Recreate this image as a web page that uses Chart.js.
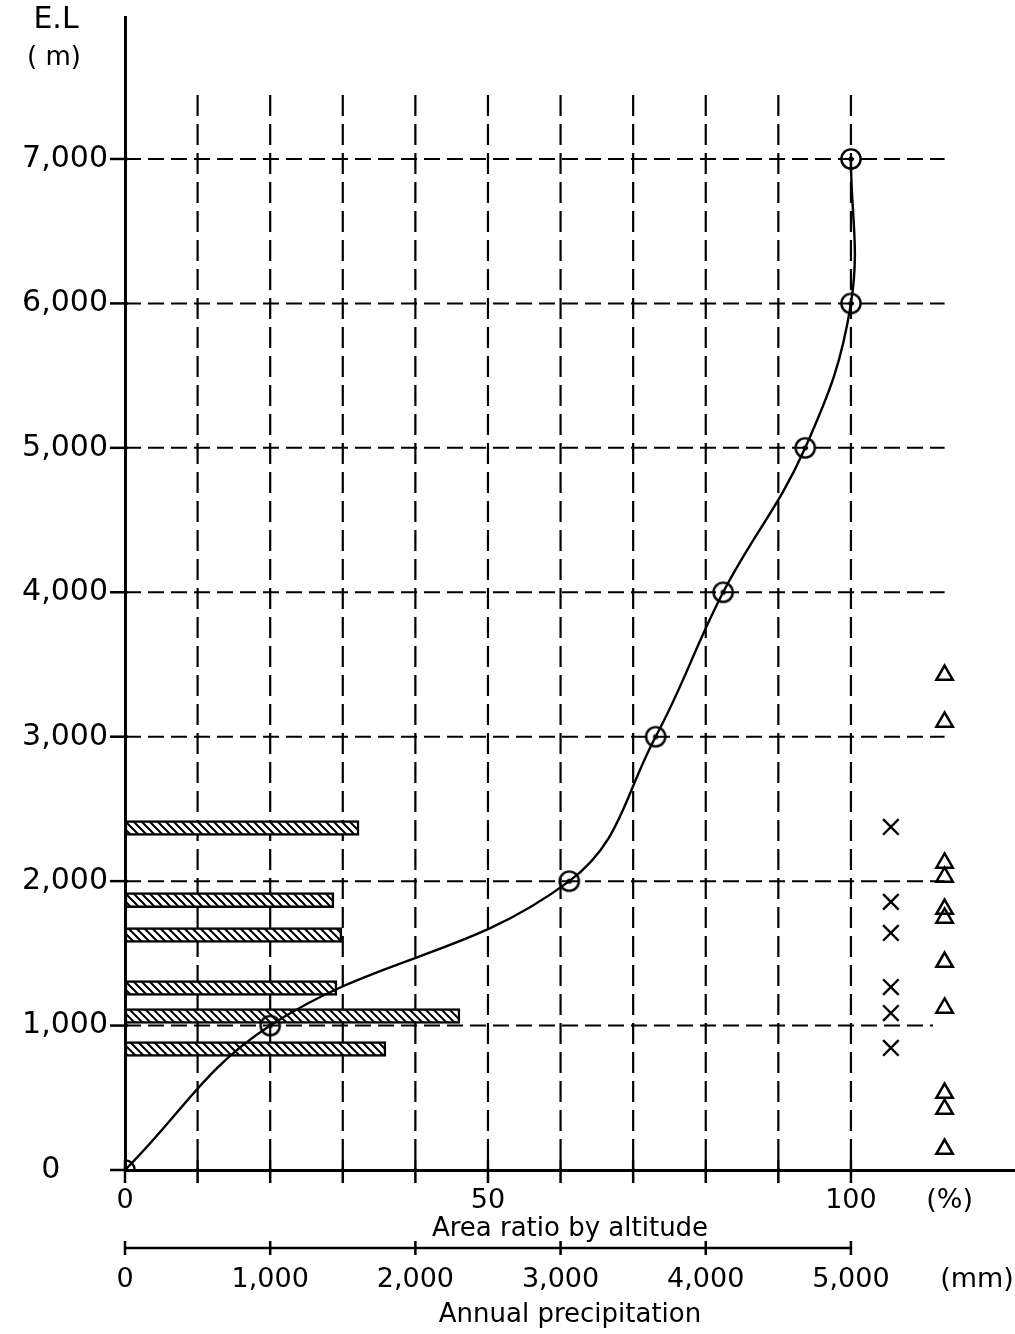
<!DOCTYPE html>
<html><head><meta charset="utf-8">
<script src="https://cdn.jsdelivr.net/npm/chart.js@4.4.1/dist/chart.umd.min.js"></script>
<style>html,body{margin:0;padding:0;background:#fff;}#wrap{width:1015px;height:1334px;}</style>
</head><body><div id="wrap"><canvas id="c" width="1015" height="1334"></canvas></div>
<script>
// ---------- data ----------
const elevations = [0, 1000, 2000, 3000, 4000, 5000, 6000, 7000];          // m
const areaRatio = [0, 20.0, 61.2, 73.1, 82.4, 93.7, 100, 100];            // % (cumulative)
const barElevations = [2368, 1869, 1627, 1260, 1066, 838];                // m (stations)
const barPrecip = [1612, 1439, 1494, 1460, 2307, 1797];                   // mm
const crossElevations = [2375, 1856, 1641, 1267, 1087, 845];              // m (X stations)
const triangleElevations = [3427, 3102, 2126, 2029, 1807, 1745, 1440, 1122, 533, 422, 145]; // m
const yTicks = [0, 1000, 2000, 3000, 4000, 5000, 6000, 7000];
const areaTicks = [0, 10, 20, 30, 40, 50, 60, 70, 80, 90, 100];
const areaTickLabels = [0, 50, 100];
const precipTicks = [0, 1000, 2000, 3000, 4000, 5000];
const yAxisTitle = ['E.L', '( m)'];

// ---------- layout constants ----------
const X_MAX = 122.6, Y_MAX = 7983, PCT_TO_MM = 50;
const UNIT_PCT_POS = 113.6, UNIT_MM_POS = 5868;
const CROSS_COL = 105.5, TRI_COL = 112.9;
const GRID_TOP = 7443;
const H_GRID_END = {def: 112.9, 1000: 111.3};
const FONT = 'DejaVu Sans';

Chart.defaults.font.family = FONT;
Chart.defaults.color = '#000';

function circleMarker() {
  const c = document.createElement('canvas'); c.width = c.height = 26;
  const g = c.getContext('2d');
  g.strokeStyle = '#000'; g.lineWidth = 2.4;
  g.beginPath(); g.arc(13, 13, 9.6, 0, 2 * Math.PI); g.stroke();
  g.fillStyle = '#000'; g.beginPath(); g.arc(13, 13, 2.6, 0, 2 * Math.PI); g.fill();
  return c;
}
function hatchPattern(ctx) {
  const c = document.createElement('canvas'); c.width = c.height = 8;
  const g = c.getContext('2d');
  g.fillStyle = '#fff'; g.fillRect(0, 0, 8, 8);
  g.strokeStyle = '#000'; g.lineWidth = 2;
  g.beginPath();
  g.moveTo(-2, -2); g.lineTo(10, 10);
  g.moveTo(-2, 6); g.lineTo(2, 10);
  g.moveTo(6, -2); g.lineTo(10, 2);
  g.stroke();
  return ctx.createPattern(c, 'repeat');
}
const fmt = v => Number(v).toLocaleString('en-US');

const refGrid = {
  id: 'refGrid',
  beforeDatasetsDraw(chart) {
    const {ctx, scales: {x, y}} = chart;
    ctx.save();
    ctx.strokeStyle = '#000';
    ctx.lineWidth = 2.2; ctx.setLineDash([21, 8]);
    areaTicks.filter(v => v > 0).forEach(v => {
      const px = x.getPixelForValue(v);
      ctx.beginPath(); ctx.moveTo(px, y.getPixelForValue(GRID_TOP)); ctx.lineTo(px, y.getPixelForValue(0)); ctx.stroke();
    });
    ctx.lineWidth = 2; ctx.setLineDash([16, 7]);
    yTicks.filter(v => v > 0).forEach(v => {
      const py = y.getPixelForValue(v);
      const end = H_GRID_END[v] !== undefined ? H_GRID_END[v] : H_GRID_END.def;
      ctx.beginPath(); ctx.moveTo(x.getPixelForValue(0), py); ctx.lineTo(x.getPixelForValue(end), py); ctx.stroke();
    });
    ctx.restore();
  },
  afterDraw(chart) {
    const {ctx, scales: {x, y, x2}} = chart;
    ctx.save();
    ctx.strokeStyle = '#000'; ctx.setLineDash([]);
    ctx.lineWidth = 2.5;
    const ax = x.getPixelForValue(0);
    yTicks.forEach(v => {
      const py = y.getPixelForValue(v);
      ctx.beginPath(); ctx.moveTo(ax - 15, py); ctx.lineTo(ax + 3, py); ctx.stroke();
    });
    const ay = y.getPixelForValue(0);
    areaTicks.forEach(v => {
      const px = x.getPixelForValue(v);
      ctx.beginPath(); ctx.moveTo(px, ay - 10); ctx.lineTo(px, ay + 13); ctx.stroke();
    });
    const py2 = x2.top - 2;
    ctx.lineWidth = 2.5;
    ctx.beginPath();
    ctx.moveTo(x2.getPixelForValue(precipTicks[0]), py2);
    ctx.lineTo(x2.getPixelForValue(precipTicks[precipTicks.length - 1]), py2);
    ctx.stroke();
    precipTicks.forEach(v => {
      const px = x2.getPixelForValue(v);
      ctx.beginPath(); ctx.moveTo(px, py2 - 7); ctx.lineTo(px, py2 + 7); ctx.stroke();
    });
    // y-axis title (horizontal, top-left)
    ctx.fillStyle = '#000';
    ctx.textAlign = 'center'; ctx.textBaseline = 'middle';
    ctx.font = '30px "' + FONT + '"';
    ctx.fillText(yAxisTitle[0], y.left + 56, chart.chartArea.top + 3);
    ctx.font = '26px "' + FONT + '"';
    ctx.fillText(yAxisTitle[1], y.left + 54, chart.chartArea.top + 41);
    ctx.restore();
  }
};

const noPad = s => { s.paddingLeft = 0; s.paddingRight = 0; s.paddingTop = 0; s.paddingBottom = 0; };

const cvs = document.getElementById('c');
const ctx = cvs.getContext('2d');

new Chart(ctx, {
  type: 'scatter',
  data: {
    datasets: [
      {
        type: 'bar', label: 'Annual precipitation', indexAxis: 'y',
        xAxisID: 'x2', yAxisID: 'y',
        data: barElevations.map((e, i) => ({x: barPrecip[i], y: e})),
        backgroundColor: hatchPattern(ctx), borderColor: '#000', borderWidth: 2.5,
        borderSkipped: false, barThickness: 15, grouped: false, order: 3
      },
      {
        type: 'line', label: 'Area ratio',
        xAxisID: 'x', yAxisID: 'y',
        data: elevations.map((e, i) => ({x: areaRatio[i], y: e})),
        borderColor: '#000', borderWidth: 2.4, fill: false, showLine: true,
        tension: 0.4,
        pointStyle: circleMarker(), pointRadius: 10, order: 0
      },
      {
        type: 'scatter', label: 'Stations X', xAxisID: 'x', yAxisID: 'y',
        data: crossElevations.map(e => ({x: CROSS_COL, y: e})),
        pointStyle: 'crossRot', pointRadius: 11, borderWidth: 2.4, borderColor: '#000', order: 1
      },
      {
        type: 'scatter', label: 'Stations triangle', xAxisID: 'x', yAxisID: 'y',
        data: triangleElevations.map(e => ({x: TRI_COL, y: e})),
        pointStyle: 'triangle', pointRadius: 9.5, borderWidth: 2.5, borderColor: '#000',
        backgroundColor: 'rgba(255,255,255,0)', order: 1
      }
    ]
  },
  options: {
    responsive: false, animation: false, devicePixelRatio: 1,
    layout: {autoPadding: false, padding: {top: 17, right: 0, bottom: 0, left: 0}},
    plugins: {legend: {display: false}, tooltip: {enabled: false}},
    events: [],
    scales: {
      x: {
        type: 'linear', position: 'bottom', min: 0, max: X_MAX, weight: 0, offset: false,
        grid: {display: false, drawTicks: false, offset: false},
        border: {display: true, color: '#000', width: 3},
        afterBuildTicks: s => { s.ticks = areaTickLabels.concat([UNIT_PCT_POS]).map(v => ({value: v})); },
        ticks: {autoSkip: false, maxRotation: 0, padding: 15, font: {size: 27},
          callback: v => (v === UNIT_PCT_POS ? '(%)' : String(v))},
        title: {display: true, text: 'Area ratio by altitude', font: {size: 26}, padding: {top: 0, bottom: 5}},
        afterFit: s => { s.height = 80; noPad(s); }
      },
      x2: {
        type: 'linear', axis: 'x', position: 'bottom', min: 0, max: X_MAX * PCT_TO_MM, weight: 1, offset: false,
        grid: {display: false, drawTicks: false, offset: false},
        border: {display: false},
        afterBuildTicks: s => { s.ticks = precipTicks.concat([UNIT_MM_POS]).map(v => ({value: v})); },
        ticks: {autoSkip: false, maxRotation: 0, padding: 14, font: {size: 27},
          callback: v => (v === UNIT_MM_POS ? '(mm)' : fmt(v))},
        title: {display: true, text: 'Annual precipitation', font: {size: 26}, padding: {top: 0, bottom: 3}},
        afterFit: s => { s.height = 84; noPad(s); }
      },
      y: {
        type: 'linear', position: 'left', min: 0, max: Y_MAX, offset: false,
        grid: {display: false, drawTicks: false, offset: false},
        border: {display: true, color: '#000', width: 3},
        afterBuildTicks: s => { s.ticks = yTicks.map(v => ({value: v})); },
        ticks: {autoSkip: false, padding: 17, font: {size: 30},
          callback: v => (v === 0 ? '0     ' : fmt(v))},
        afterFit: s => { s.width = 125; noPad(s); }
      }
    }
  },
  plugins: [refGrid]
});
</script></body></html>
